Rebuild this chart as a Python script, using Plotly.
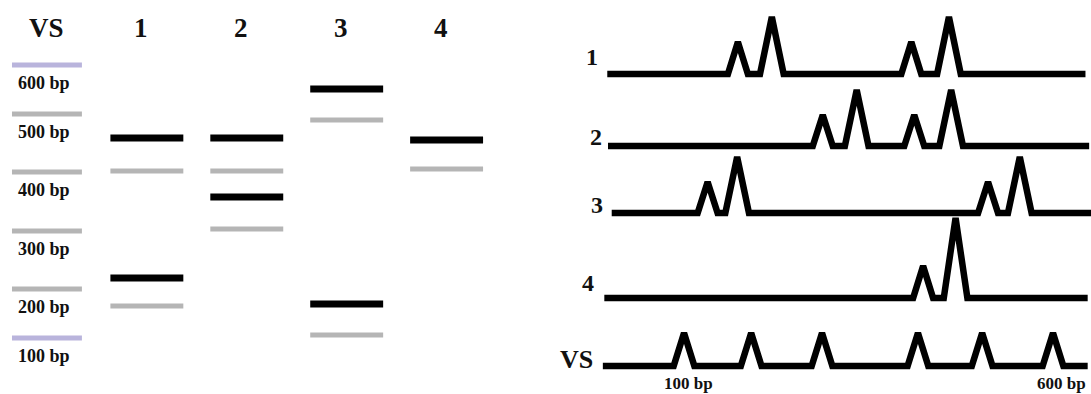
import plotly.graph_objects as go

# ---------------- Gel (left panel) ----------------
lanes = ["VS", "1", "2", "3", "4"]
ladder_labels = ["600 bp", "500 bp", "400 bp", "300 bp", "200 bp", "100 bp"]
ladder_migration = [65, 114, 172, 231, 289, 338]          # migration distance (a.u.)
ladder_tone = ["edge", "mid", "mid", "mid", "mid", "edge"]

lane1_strong = [138, 278]
lane1_faint = [171, 306]
lane2_strong = [138, 197]
lane2_faint = [171, 229]
lane3_strong = [89, 304]
lane3_faint = [120, 335]
lane4_strong = [140]
lane4_faint = [169]

# ---------------- Traces (right panel) ----------------
trace_names = ["1", "2", "3", "4", "VS"]
s1_pos = [173, 219, 408, 459]
s1_h = [32, 57, 32, 57]
s2_pos = [288, 334, 412, 462]
s2_h = [31, 56, 31, 56]
s3_pos = [132, 172, 512, 555]
s3_h = [31, 56, 31, 56]
s4_pos = [424, 468]
s4_h = [32, 80]
vs_pos = [100, 191, 287, 417, 504, 600]
vs_h = [33, 33, 33, 33, 33, 33]
trace_start = [-4, -3, 2, -8, -10]
trace_end = [644, 649, 652, 647, 647]

# ---------------- styles ----------------
SERIF = "Liberation Serif, Times New Roman, serif"
BLACK = "#000000"
GREY = "#b5b5b5"
LAVENDER = "#b9b4dc"
LANE_HALF = 0.365
LADDER_HALF = 0.35
trace_offset = [320, 248, 181, 96, 28]
label_shift = [(-7, 17), (-4, 9), (-7, 8), (-8, 15), (-8, 7)]

fig = go.Figure()


def band_trace(xc, ys, half, color, width):
    xs, yy = [], []
    for y in ys:
        xs += [xc - half, xc + half, None]
        yy += [y, y, None]
    fig.add_trace(go.Scatter(x=xs, y=yy, mode="lines", xaxis="x", yaxis="y",
                             line=dict(color=color, width=width),
                             hoverinfo="skip", showlegend=False))


# ladder
for y, tone in zip(ladder_migration, ladder_tone):
    band_trace(0, [y], LADDER_HALF, LAVENDER if tone == "edge" else GREY, 5)

strong = [lane1_strong, lane2_strong, lane3_strong, lane4_strong]
faint = [lane1_faint, lane2_faint, lane3_faint, lane4_faint]
for i in range(4):
    band_trace(i + 1, faint[i], LANE_HALF, GREY, 5)
    band_trace(i + 1, strong[i], LANE_HALF, BLACK, 7)

annotations = []
for i, name in enumerate(lanes):
    annotations.append(dict(x=i, y=28, xref="x", yref="y", text=f"<b>{name}</b>",
                            showarrow=False, xshift=0 if i == 0 else -6,
                            font=dict(family=SERIF, size=27, color="#111")))
for lab, y in zip(ladder_labels, ladder_migration):
    annotations.append(dict(x=0, y=y, xref="x", yref="y", text=f"<b>{lab}</b>",
                            showarrow=False, yshift=-18, xshift=-3,
                            font=dict(family=SERIF, size=18, color="#111")))

# electropherogram-like traces
all_pos = [s1_pos, s2_pos, s3_pos, s4_pos, vs_pos]
all_h = [s1_h, s2_h, s3_h, s4_h, vs_h]
for k in range(5):
    base = trace_offset[k]
    xs = [trace_start[k]]
    ys = [base]
    for p, h in zip(all_pos[k], all_h[k]):
        half = 14 if k == 4 else (16 if h > 45 else 13.5)
        xs += [p - half, p, p + half]
        ys += [base, base + h, base]
    xs.append(trace_end[k])
    ys.append(base)
    fig.add_trace(go.Scatter(x=xs, y=ys, mode="lines", xaxis="x2", yaxis="y2",
                             line=dict(color=BLACK, width=6.5),
                             hoverinfo="skip", showlegend=False))
    dx, dy = label_shift[k]
    annotations.append(dict(x=trace_start[k], y=base, xref="x2", yref="y2",
                            text=f"<b>{trace_names[k]}</b>", showarrow=False,
                            xanchor="right", yanchor="middle", xshift=dx, yshift=dy,
                            font=dict(family=SERIF, size=26 if k == 4 else 24,
                                      color="#111")))

for p, lab, dx in [(vs_pos[0], "100 bp", 4), (vs_pos[-1], "600 bp", 8)]:
    annotations.append(dict(x=p, y=trace_offset[4], xref="x2", yref="y2",
                            text=f"<b>{lab}</b>", showarrow=False, xshift=dx, yshift=-17,
                            font=dict(family=SERIF, size=17, color="#111")))

hidden = dict(visible=False, showgrid=False, zeroline=False, fixedrange=True)
fig.update_layout(
    width=1091, height=394,
    margin=dict(l=0, r=0, t=0, b=0),
    paper_bgcolor="white", plot_bgcolor="white",
    xaxis=dict(domain=[0, 0.5], range=[-0.47, 4.99], **hidden),
    yaxis=dict(domain=[0, 1], range=[394, 0], **hidden),
    xaxis2=dict(domain=[0.5, 1], range=[-87.7, 651.5], anchor="y2", **hidden),
    yaxis2=dict(domain=[0, 1], range=[0, 394], anchor="x2", **hidden),
    annotations=annotations,
    showlegend=False,
)

fig.write_html(
    "out.html",
    config={"displayModeBar": False},
    post_script="document.body.style.margin='0';document.body.style.overflow='hidden';",
)
